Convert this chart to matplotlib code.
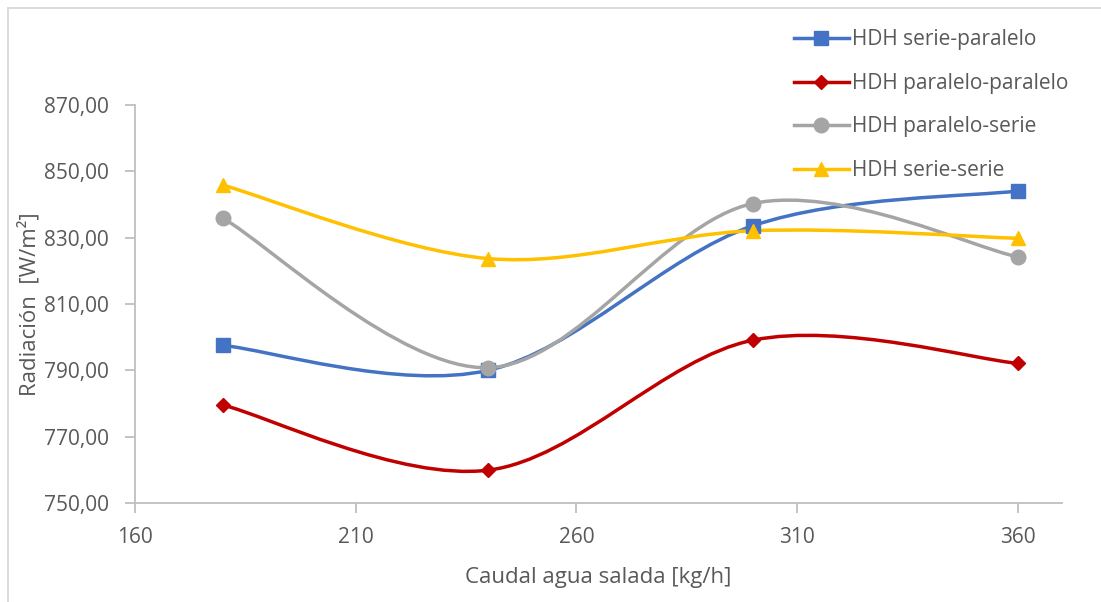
import matplotlib
matplotlib.use("Agg")
import matplotlib.pyplot as plt
import numpy as np
from matplotlib.path import Path
from matplotlib.patches import PathPatch
from matplotlib.lines import Line2D
import matplotlib.ticker as mtick

plt.rcParams['font.family'] = ['Open Sans', 'DejaVu Sans']

#----- data
caudal = [180, 240, 300, 360]
serie_paralelo = [797.5, 790.0, 833.6, 844.1]
paralelo_paralelo = [779.5, 759.9, 799.1, 792.1]
paralelo_serie = [835.8, 790.8, 840.3, 824.2]
serie_serie = [845.8, 823.7, 832.1, 829.8]

series = [
    ('HDH serie-paralelo', serie_paralelo, '#4472C4', 's', 9.5),
    ('HDH paralelo-paralelo', paralelo_paralelo, '#C00000', 'D', 7.5),
    ('HDH paralelo-serie', paralelo_serie, '#A5A5A5', 'o', 10.5),
    ('HDH serie-serie', serie_serie, '#FFC000', '^', 10.5),
]

TXT = '#595959'
AXC = '#BFBFBF'


#-----
def smooth_path(x, y):
    # Catmull-Rom style bezier segments (spreadsheet "smoothed line")
    pts = np.column_stack([x, y]).astype(float)
    n = len(pts)
    verts = [pts[0]]
    codes = [Path.MOVETO]
    for i in range(n - 1):
        p0 = pts[max(i - 1, 0)]
        p1 = pts[i]
        p2 = pts[i + 1]
        p3 = pts[min(i + 2, n - 1)]
        c1 = p1 + (p2 - p0) / 6.0
        c2 = p2 - (p3 - p1) / 6.0
        verts += [c1, c2, p2]
        codes += [Path.CURVE4] * 3
    return Path(verts, codes)


fig = plt.figure(figsize=(11.01, 6.02), dpi=100)
ax = fig.add_axes([135 / 1101, 1 - 503 / 602, (1062 - 135) / 1101, (503 - 105) / 602])

handles = []
for name, vals, col, mk, ms in series:
    patch = PathPatch(smooth_path(caudal, vals), fill=False, edgecolor=col, lw=2.5,
                      capstyle='round', joinstyle='round', zorder=2)
    ax.add_patch(patch)
    ax.plot(caudal, vals, linestyle='none', marker=mk, ms=ms, color=col, mec=col, zorder=3)
    handles.append(Line2D([], [], color=col, lw=2.5, marker=mk, ms=ms, mec=col, label=name))

ax.set_xlim(160, 370)
ax.set_ylim(750, 870)
ax.set_xticks([160, 210, 260, 310, 360])
ax.set_yticks(np.arange(750, 871, 20))
ax.yaxis.set_major_formatter(mtick.FuncFormatter(lambda v, p: f'{v:.2f}'.replace('.', ',')))

for s in ['top', 'right']:
    ax.spines[s].set_visible(False)
for s in ['left', 'bottom']:
    ax.spines[s].set_color(AXC)
    ax.spines[s].set_linewidth(1.3)
ax.tick_params(axis='both', direction='out', length=7, width=1.3, color=AXC,
               labelcolor=TXT, labelsize=15)
ax.tick_params(axis='y', pad=12)
ax.tick_params(axis='x', pad=10)

ax.set_xlabel('Caudal agua salada [kg/h]', fontsize=16, color=TXT, labelpad=14)
ax.set_ylabel('Radiación  [W/m²]', fontsize=16, color=TXT, labelpad=2)

fig.legend(handles=handles, loc='upper left', bbox_to_anchor=(786 / 1101, 1 - 21 / 602),
           frameon=False, fontsize=15, labelcolor=TXT, handlelength=2.6,
           handletextpad=0.15, labelspacing=1.08, borderaxespad=0)

# chart border
fig.add_artist(Line2D([7.5 / 1101, 7.5 / 1101], [0, 1 - 7.5 / 602], color='#D9D9D9', lw=1.3))
fig.add_artist(Line2D([7.5 / 1101, 1], [1 - 7.5 / 602, 1 - 7.5 / 602], color='#D9D9D9', lw=1.3))

plt.savefig('out.png', dpi=100)
